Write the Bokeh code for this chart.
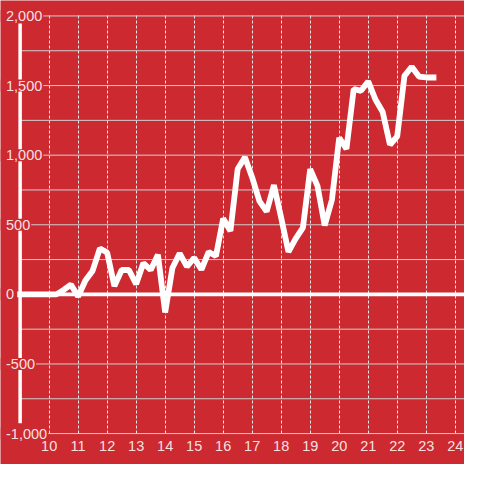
from bokeh.plotting import figure
from bokeh.models import FixedTicker, Grid, Range1d, ColumnDataSource
from bokeh.core.properties import value
from bokeh.embed import file_html
from bokeh.resources import INLINE

# ---- data (quarterly points) ----
x_values = [9.0, 9.25, 9.5, 9.75, 10.0, 10.25, 10.5, 10.75,
            11.0, 11.25, 11.5, 11.75, 12.0, 12.25, 12.5, 12.75,
            13.0, 13.25, 13.5, 13.75, 14.0, 14.25, 14.5, 14.75,
            15.0, 15.25, 15.5, 15.75, 16.0, 16.25, 16.5, 16.75,
            17.0, 17.25, 17.5, 17.75, 18.0, 18.25, 18.5, 18.75,
            19.0, 19.25, 19.5, 19.75, 20.0, 20.25, 20.5, 20.75,
            21.0, 21.25, 21.5, 21.75, 22.0, 22.25, 22.5, 22.75,
            23.0, 23.25]
y_values = [0, 0, 0, 0, 0, 0, 32, 70,
            -15, 100, 170, 330, 300, 60, 175, 175,
            74, 225, 175, 285, -130, 190, 295, 200,
            262, 178, 305, 275, 545, 455, 900, 985,
            840, 670, 595, 785, 550, 305, 400, 480,
            900, 780, 495, 680, 1125, 1045, 1475, 1462,
            1530, 1400, 1310, 1075, 1135, 1570, 1635, 1565,
            1558, 1558]

x_ticks = [10, 11, 12, 13, 14, 15, 16, 17, 18, 19, 20, 21, 22, 23, 24]
x_tick_labels = ["10", "11", "12", "13", "14", "15", "16", "17", "18",
                 "19", "20", "21", "22", "23", "24"]
y_label_ticks = [-1000, -500, 0, 500, 1000, 1500, 2000]
y_label_texts = ["-1,000", "-500", "0", "500", "1,000", "1,500", "2,000"]
y_grid_ticks = [-1000, -750, -500, -250, 0, 250, 500, 750, 1000,
                1250, 1500, 1750, 2000]

# ---- layout ----
W = H = 464
X_START, X_END = 8.323, 24.32
Y_START, Y_END = -1222.2, 2111.1
Y_MIN, Y_MAX = -1000, 2000
AXIS_X = 9
AXIS_Y0, AXIS_Y1 = -925, 1945
X_LABEL_Y = -1092
PX_PER_X = W / (X_END - X_START)
LABEL_LEFT_PX = 5.5

RED = "#cc2a30"
FONT = "Liberation Sans"
FS_PX = 14.5
FS = "14.5px"
CHAR_EM = {"-": 0.333, ",": 0.278}


def text_width_px(s):
    return sum(CHAR_EM.get(c, 0.556) for c in s) * FS_PX


p = figure(width=W, height=H,
           x_range=Range1d(X_START, X_END), y_range=Range1d(Y_START, Y_END),
           x_axis_location=None, y_axis_location=None,
           output_backend="svg", toolbar_location=None,
           background_fill_color=RED, border_fill_color=RED,
           outline_line_color=None, min_border=0)

# hide the automatically created default grids
p.xgrid.visible = False
p.ygrid.visible = False

# vertical dotted grid
xgrid = Grid(dimension=0, ticker=FixedTicker(ticks=x_ticks),
             cross_bounds=(Y_MIN, Y_MAX),
             grid_line_color="#e8e8e8", grid_line_dash="3 2", grid_line_width=1)
p.add_layout(xgrid)

# horizontal grid lines, starting at the axis
n = len(y_grid_ticks)
gsrc = ColumnDataSource(data=dict(x0=[AXIS_X] * n, x1=[X_END] * n,
                                  y=y_grid_ticks))
p.segment(x0="x0", y0="y", x1="x1", y1="y", source=gsrc,
          line_color="#cfcfcf", line_width=1)

# zero line
zsrc = ColumnDataSource(data=dict(x0=[AXIS_X], x1=[X_END], y=[0]))
p.segment(x0="x0", y0="y", x1="x1", y1="y", source=zsrc,
          line_color="white", line_width=3.8)

# vertical axis line
asrc = ColumnDataSource(data=dict(x=[AXIS_X], y0=[AXIS_Y0], y1=[AXIS_Y1]))
p.segment(x0="x", y0="y0", x1="x", y1="y1", source=asrc,
          line_color="white", line_width=3.5)

# data line
src = ColumnDataSource(data=dict(x=x_values, y=y_values))
p.line(x="x", y="y", source=src, line_color="white", line_width=5.8,
       line_cap="square", line_join="bevel")

# red boxes behind the y labels, from the left edge to the end of the text
widths = [LABEL_LEFT_PX + text_width_px(t) + 1 for t in y_label_texts]
centers = [X_START + (w / 2) / PX_PER_X for w in widths]
bsrc = ColumnDataSource(data=dict(x=centers, y=y_label_ticks, w=widths))
p.rect(x="x", y="y", width="w", height=12, width_units="screen",
       height_units="screen", source=bsrc, fill_color=RED, line_color=None)

# y labels
label_x = X_START + LABEL_LEFT_PX / PX_PER_X
ysrc = ColumnDataSource(data=dict(y=y_label_ticks, t=y_label_texts,
                                  x=[label_x] * len(y_label_ticks)))
p.text(x="x", y="y", text="t", source=ysrc,
       text_align="left", text_baseline="middle",
       text_font=value(FONT), text_font_size=value(FS),
       text_color="white", text_alpha=0.87)

# x labels
xsrc = ColumnDataSource(data=dict(x=x_ticks, t=x_tick_labels,
                                  y=[X_LABEL_Y] * len(x_ticks)))
p.text(x="x", y="y", text="t", source=xsrc,
       text_align="center", text_baseline="middle",
       text_font=value(FONT), text_font_size=value(FS),
       text_color="white", text_alpha=0.87)

open("out.html", "w").write(file_html(p, INLINE))
